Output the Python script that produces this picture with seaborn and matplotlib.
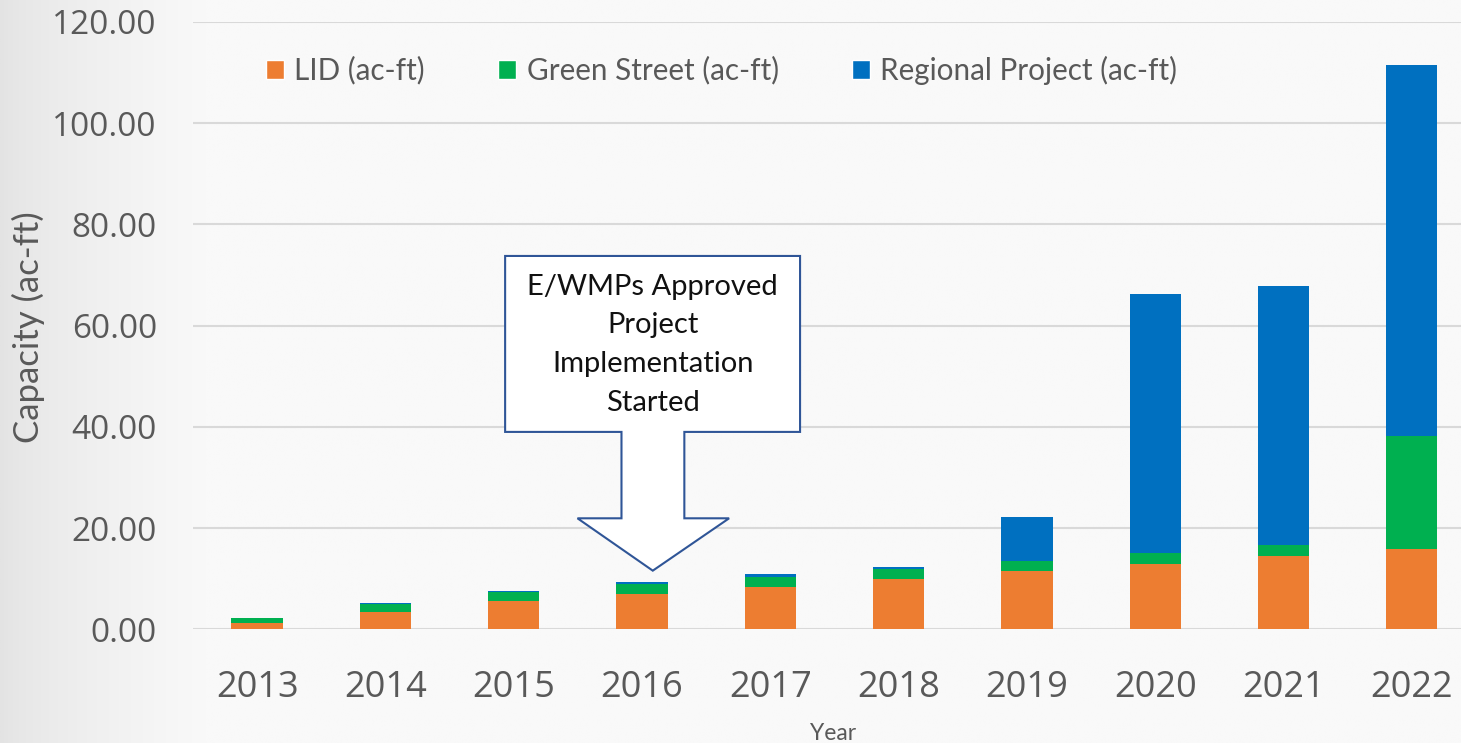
import numpy as np
import pandas as pd
import seaborn as sns
import matplotlib.pyplot as plt
from matplotlib.patches import Polygon, Patch
from matplotlib.colors import LinearSegmentedColormap

# data (ac-ft per year)
years = ["2013", "2014", "2015", "2016", "2017", "2018", "2019", "2020", "2021", "2022"]
lid = [1.2, 3.5, 5.6, 6.9, 8.3, 9.9, 11.5, 12.9, 14.5, 15.9]
green_street = [1.05, 1.45, 1.7, 2.0, 2.0, 2.05, 2.0, 2.1, 2.2, 22.3]
regional = [0.0, 0.25, 0.3, 0.45, 0.6, 0.45, 8.7, 51.2, 51.1, 73.2]

series_names = ["LID (ac-ft)", "Green Street (ac-ft)", "Regional Project (ac-ft)"]
colors = ["#ED7D31", "#00B050", "#0070C0"]
y_ticks = [0, 20, 40, 60, 80, 100, 120]
callout_text = "E/WMPs Approved\nProject\nImplementation\nStarted"

df = pd.DataFrame({"Year": years, "LID": lid, "Green": green_street, "Regional": regional})
df["lid_top"] = df["LID"]
df["green_top"] = df["LID"] + df["Green"]
df["total"] = df["green_top"] + df["Regional"]

sns.set_style("white")
plt.rcParams["font.family"] = ["Open Sans", "DejaVu Sans"]
TEXT_FONT = ["Lato", "DejaVu Sans"]
GREY = "#595959"

fig = plt.figure(figsize=(14.61, 7.43), dpi=100)
fig.patch.set_facecolor("#f9f9f9")

# soft grey shading on the left edge of the slide
bg = fig.add_axes([0, 0, 1, 1], zorder=-1)
grad = np.clip(np.linspace(0, 1, 600) / 0.14, 0, 1) ** 0.7
bg.imshow(np.tile(grad, (10, 1)), aspect="auto", extent=[0, 1, 0, 1],
          cmap=LinearSegmentedColormap.from_list("bgc", ["#e3e3e3", "#f9f9f9"]))
bg.axis("off")

ax = fig.add_axes([0.1321, 0.1529, 0.8679, 0.8178])
ax.set_facecolor("none")

# stacked bars drawn as overlapping cumulative totals
for col, c in zip(["total", "green_top", "lid_top"], colors[::-1]):
    sns.barplot(data=df, x="Year", y=col, color=c, width=0.4, saturation=1,
                errorbar=None, linewidth=0, ax=ax, zorder=2)

ax.set_xlim(-0.5, 9.384)
ax.set_ylim(0, 120)
ax.set_yticks(y_ticks)
ax.set_yticklabels([f"{v:.2f}" for v in y_ticks])
ax.yaxis.grid(True, color="#d9d9d9", linewidth=1.5)
ax.set_axisbelow(True)
for s in ax.spines.values():
    s.set_visible(False)
ax.tick_params(axis="y", length=0, pad=26, labelsize=24, labelcolor=GREY)
ax.tick_params(axis="x", length=0, pad=29, labelsize=26, labelcolor=GREY)
ax.set_xlabel("")
ax.set_ylabel("")

fig.text(28 / 1461, 1 - 327 / 743, "Capacity (ac-ft)", rotation=90, ha="center",
         va="center", fontsize=25, color=GREY, family=TEXT_FONT)
fig.text(833 / 1461, 1 - 733 / 743, "Year", ha="center", va="center",
         fontsize=16.5, color=GREY, family=TEXT_FONT)

handles = [Patch(facecolor=c, label=n) for c, n in zip(colors, series_names)]
ax.legend(handles=handles, ncol=3, loc="center left", bbox_to_anchor=(0.0576, 0.9207),
          frameon=False, prop={"family": TEXT_FONT, "size": 21.3}, labelcolor=GREY,
          handlelength=0.62, handleheight=0.62, handletextpad=0.34,
          columnspacing=2.47, borderpad=0, borderaxespad=0)

# callout arrow
arrow = [(1.933, 73.75), (4.232, 73.75), (4.232, 39.0), (3.33, 39.0), (3.33, 21.94),
         (3.679, 21.94), (3.084, 11.6), (2.497, 21.94), (2.84, 21.94), (2.84, 39.0),
         (1.933, 39.0)]
ax.add_patch(Polygon(arrow, closed=True, facecolor="white", edgecolor="#2F5597",
                     linewidth=1.5, zorder=5, clip_on=False))
ax.text(3.084, 56.2, callout_text, ha="center", va="center", fontsize=21,
        family=TEXT_FONT, linespacing=1.61, color="#111111", zorder=6)

fig.savefig("out.png", dpi=100)
